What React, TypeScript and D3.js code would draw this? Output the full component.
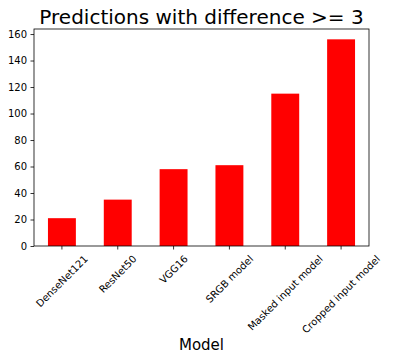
import React, {FC, useEffect, useRef} from 'react';
import * as d3 from 'd3';

const models = [
  'DenseNet121',
  'ResNet50',
  'VGG16',
  'SRGB model',
  'Masked input model',
  'Cropped input model',
];
const counts = [21, 35, 58, 61, 115, 156];
const yTicks = [0, 20, 40, 60, 80, 100, 120, 140, 160];

const W = 418;
const H = 361;
const FONT = '"DejaVu Sans", sans-serif';

const App: FC = () => {
  const ref = useRef<SVGSVGElement>(null);

  // axes box, in pixels
  const margin = {top: 29, right: 49, bottom: 115, left: 34};
  const plotW = W - margin.left - margin.right;
  const plotH = H - margin.top - margin.bottom;

  useEffect(() => {
    const root = d3.select(ref.current);
    root.selectAll('*').remove();

    root.append('rect').attr('width', W).attr('height', H).attr('fill', 'white');

    const svg = root
      .append('g')
      .attr('transform', `translate(${margin.left}, ${margin.top})`);

    const x = d3
      .scaleBand<string>()
      .domain(models)
      .range([0, plotW])
      .paddingInner(0.5)
      .paddingOuter(0.25);

    const y = d3
      .scaleLinear()
      .domain([0, (d3.max(counts) as number) * 1.05])
      .range([plotH, 0]);

    // bars
    svg
      .selectAll('rect.bar')
      .data(counts)
      .enter()
      .append('rect')
      .attr('class', 'bar')
      .attr('x', (d, i) => x(models[i]) as number)
      .attr('y', d => y(d))
      .attr('width', x.bandwidth())
      .attr('height', d => plotH - y(d))
      .attr('fill', '#ff0000');

    // y axis
    const yAxis = svg
      .append('g')
      .call(
        d3
          .axisLeft(y)
          .tickValues(yTicks)
          .tickSize(3.5)
          .tickPadding(3.5)
          .tickFormat(d3.format('d'))
      );
    yAxis.select('.domain').remove();
    yAxis.selectAll('line').attr('stroke', 'black').attr('stroke-width', 0.8);
    yAxis
      .selectAll('text')
      .attr('font-family', FONT)
      .attr('font-size', 10)
      .attr('fill', 'black');

    // x ticks
    const xg = svg.append('g').attr('transform', `translate(0, ${plotH})`);
    models.forEach(m => {
      const cx = (x(m) as number) + x.bandwidth() / 2;
      xg.append('line')
        .attr('x1', cx)
        .attr('x2', cx)
        .attr('y1', 0)
        .attr('y2', 3.5)
        .attr('stroke', 'black')
        .attr('stroke-width', 0.8);
      const t = xg
        .append('text')
        .attr('font-family', FONT)
        .attr('font-size', 10)
        .attr('fill', 'black')
        .attr('text-anchor', 'middle')
        .attr('dominant-baseline', 'central')
        .text(m);
      const w = (t.node() as SVGTextElement).getComputedTextLength();
      const h = 11.6;
      const half = (w + h) / (2 * Math.SQRT2);
      const cy = 3.5 + 3.5 + half;
      t.attr('transform', `translate(${cx}, ${cy}) rotate(-45)`);
    });

    // frame
    svg
      .append('rect')
      .attr('width', plotW)
      .attr('height', plotH)
      .attr('fill', 'none')
      .attr('stroke', 'black')
      .attr('stroke-width', 0.8);

    // title
    root
      .append('text')
      .attr('x', margin.left + plotW / 2)
      .attr('y', 24)
      .attr('text-anchor', 'middle')
      .attr('font-family', FONT)
      .attr('font-size', 20)
      .attr('fill', 'black')
      .text('Predictions with difference >= 3');

    // x label
    root
      .append('text')
      .attr('x', margin.left + plotW / 2)
      .attr('y', 350)
      .attr('text-anchor', 'middle')
      .attr('font-family', FONT)
      .attr('font-size', 15)
      .attr('fill', 'black')
      .text('Model');
  }, [margin.left, margin.top, plotW, plotH]);

  return (
    <svg
      ref={ref}
      width={W}
      height={H}
      style={{position: 'absolute', left: 0, top: 0}}
    />
  );
};

export default App;
